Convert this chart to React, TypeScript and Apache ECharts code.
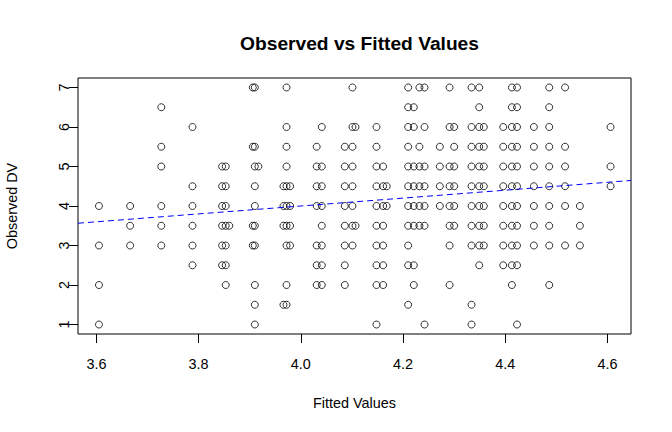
import React, { useEffect, useRef } from "react";
import * as echarts from "echarts";

// Fitted value levels (x) and the observed DV values recorded at each level (y)
const fittedLevels = [
  3.605, 3.666, 3.727, 3.788, 3.846, 3.853, 3.86, 3.906, 3.91, 3.917,
  3.966, 3.972, 3.979, 4.031, 4.041, 4.086, 4.101, 4.107, 4.148, 4.161,
  4.168, 4.21, 4.221, 4.232, 4.242, 4.272, 4.291, 4.3, 4.334, 4.349,
  4.358, 4.396, 4.413, 4.423, 4.456, 4.486, 4.517, 4.546, 4.606,
];
const observedAtLevel: number[][] = [
  [4, 3, 2, 1],
  [4, 3.5, 3],
  [6.5, 5.5, 5, 4, 3.5, 3],
  [6, 4.5, 4, 3.5, 3, 2.5],
  [5, 4.5, 4, 3.5, 3, 2.5],
  [5, 4.5, 4, 3.5, 3, 2.5, 2],
  [3.5],
  [7, 5.5, 3.5, 3],
  [7, 5.5, 5, 4.5, 4, 3.5, 3, 2, 1.5, 1],
  [5],
  [4.5, 4, 3.5, 1.5],
  [7, 6, 5.5, 5, 4.5, 4, 3.5, 3, 2, 1.5],
  [4.5, 4, 3.5, 3],
  [5.5, 5, 4.5, 4, 3, 2.5, 2],
  [6, 5, 4.5, 4, 3.5, 3, 2.5, 2],
  [5.5, 5, 4.5, 4, 3.5, 3, 2.5, 2],
  [7, 6, 5.5, 5, 4.5, 4, 3.5, 3],
  [6, 3.5],
  [6, 5.5, 5, 4.5, 4, 3.5, 3, 2.5, 2, 1],
  [5, 4.5, 4, 3.5, 3, 2.5, 2],
  [4.5, 4],
  [7, 6.5, 6, 5.5, 5, 4.5, 4, 3.5, 3, 2.5, 1.5],
  [6.5, 6, 5, 4.5, 4, 3.5, 2.5, 2],
  [7, 5.5, 5, 4.5, 4, 3.5],
  [7, 6, 5, 4.5, 4, 3.5, 1],
  [5.5, 5, 4.5, 4],
  [7, 6, 5, 4.5, 4, 3.5, 3, 2],
  [6, 5.5, 5, 4.5, 4, 3.5],
  [7, 6, 5.5, 5, 4.5, 4, 3.5, 3, 1.5, 1],
  [7, 6.5, 6, 5.5, 5, 4.5, 4, 3.5, 3, 2.5],
  [6, 5.5, 5, 4.5, 4, 3.5, 3],
  [6, 5.5, 5, 4.5, 4, 3.5, 3, 2.5],
  [7, 6.5, 6, 5.5, 5, 4.5, 4, 3.5, 3, 2.5, 2],
  [7, 6.5, 6, 5.5, 5, 4.5, 4, 3.5, 3, 2.5, 1],
  [6, 5.5, 5, 4.5, 4, 3.5, 3],
  [7, 6.5, 6, 5.5, 5, 4.5, 4, 3.5, 3, 2],
  [7, 5.5, 5, 4.5, 4, 3],
  [4, 3.5, 3],
  [6, 5, 4.5],
];

const xTicks = [3.6, 3.8, 4.0, 4.2, 4.4, 4.6];
const yTicks = [1, 2, 3, 4, 5, 6, 7];

// Reference line: observed = intercept + slope * fitted
const lineIntercept = 0;
const lineSlope = 1;

const xMin = 3.564;
const xMax = 4.646;
const yMin = 0.76;
const yMax = 7.24;

const FONT = "'Liberation Sans', Arial, Helvetica, sans-serif";

export default function App() {
  const ref = useRef<HTMLDivElement>(null);

  useEffect(() => {
    if (!ref.current) return;
    const chart = echarts.init(ref.current, undefined, { renderer: "svg" });

    const points: number[][] = [];
    fittedLevels.forEach((fx, i) => {
      observedAtLevel[i].forEach((oy) => points.push([fx, oy]));
    });

    const linePts = [
      [xMin, lineIntercept + lineSlope * xMin],
      [xMax, lineIntercept + lineSlope * xMax],
    ];

    chart.setOption({
      animation: false,
      backgroundColor: "#fff",
      textStyle: { fontFamily: FONT },
      title: {
        text: "Observed vs Fitted Values",
        left: 354.5,
        top: 29,
        textAlign: "center",
        textStyle: {
          fontFamily: FONT,
          fontSize: 19.2,
          fontWeight: "bold",
          color: "#000",
        },
      },
      grid: {
        left: 78,
        right: 41,
        top: 78,
        bottom: 98,
        containLabel: false,
        outerBoundsMode: "none",
        show: true,
        borderColor: "#000",
        borderWidth: 1,
        backgroundColor: "transparent",
      },
      xAxis: {
        type: "value",
        min: xMin,
        max: xMax,
        name: "Fitted Values",
        nameLocation: "middle",
        nameGap: 62,
        nameTextStyle: { fontFamily: FONT, fontSize: 14.4, color: "#000" },
        splitLine: { show: false },
        axisLine: { show: false },
        axisTick: {
          show: true,
          inside: false,
          length: 9,
          customValues: xTicks,
          lineStyle: { color: "#000", width: 1 },
        },
        axisLabel: {
          show: true,
          customValues: xTicks,
          margin: 23,
          fontFamily: FONT,
          fontSize: 14.4,
          color: "#000",
          formatter: (v: number) => v.toFixed(1),
        },
      },
      yAxis: {
        type: "value",
        min: yMin,
        max: yMax,
        name: "Observed DV",
        nameLocation: "middle",
        nameGap: 59,
        nameRotate: 90,
        nameTextStyle: { fontFamily: FONT, fontSize: 14.4, color: "#000" },
        splitLine: { show: false },
        axisLine: { show: false },
        axisTick: {
          show: true,
          inside: false,
          length: 9,
          customValues: yTicks,
          lineStyle: { color: "#000", width: 1 },
        },
        axisLabel: {
          show: true,
          customValues: yTicks,
          rotate: 90,
          margin: 7,
          fontFamily: FONT,
          fontSize: 14.4,
          color: "#000",
          formatter: (v: number) => String(v),
        },
      },
      series: [
        {
          type: "scatter",
          data: points,
          symbol: "circle",
          symbolSize: 7,
          itemStyle: {
            color: "rgba(0,0,0,0)",
            borderColor: "#000",
            borderWidth: 1,
          },
          emphasis: { disabled: true },
          z: 2,
        },
        {
          type: "line",
          data: linePts,
          showSymbol: false,
          symbol: "none",
          lineStyle: { color: "#0000ff", width: 1, type: [6, 4] },
          emphasis: { disabled: true },
          z: 3,
        },
      ],
    });

    return () => chart.dispose();
  }, []);

  return (
    <div
      ref={ref}
      style={{ position: "fixed", left: 0, top: 0, width: 672, height: 432 }}
    />
  );
}
